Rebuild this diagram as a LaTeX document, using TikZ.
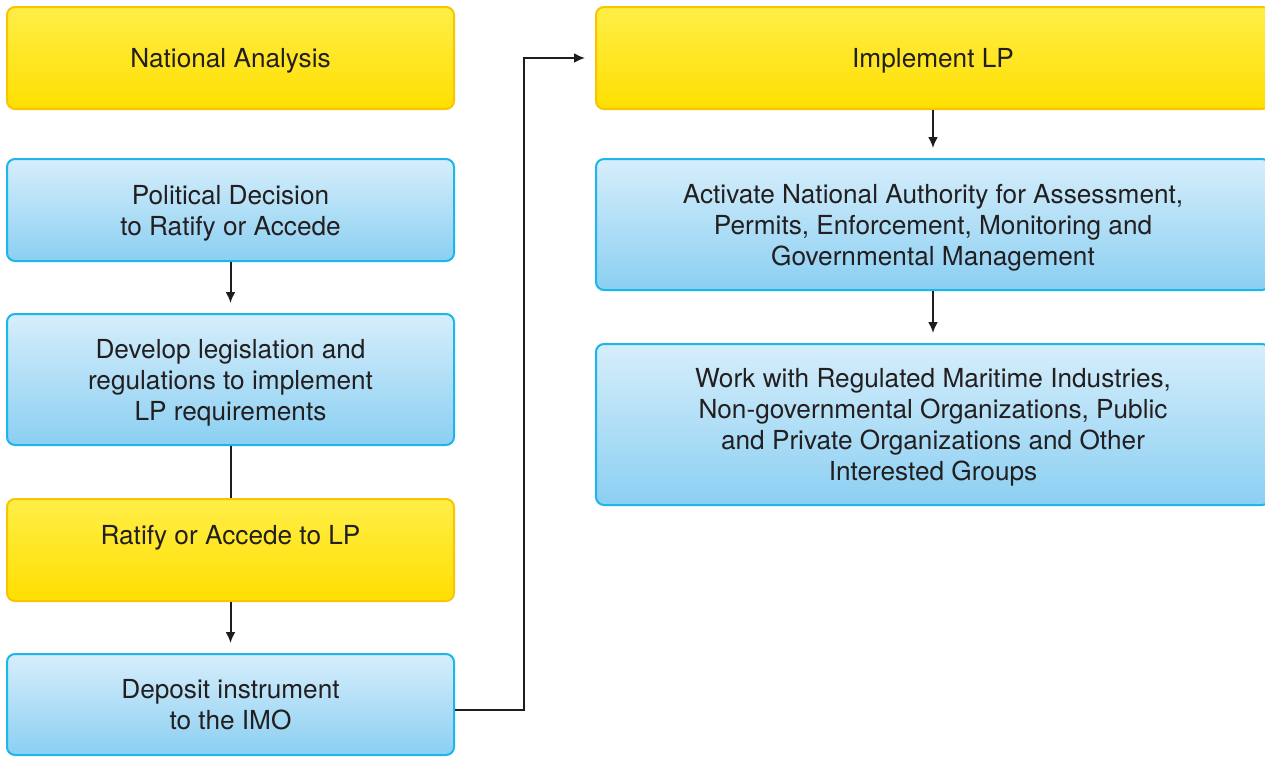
\documentclass[tikz,border=0pt]{standalone}
\usepackage{fontspec}
\setmainfont{TeX Gyre Heros}
\usetikzlibrary{arrows.meta}
\definecolor{yelTop}{HTML}{FFEE48}
\definecolor{yelBot}{HTML}{FFDF00}
\definecolor{yelLine}{HTML}{F8C500}
\definecolor{bluTop}{HTML}{D6EEFB}
\definecolor{bluBot}{HTML}{8BCFF2}
\definecolor{bluLine}{HTML}{1BB6EA}
\definecolor{ink}{HTML}{231F20}
\tikzset{
  box/.style={rounded corners=8pt, line width=2pt, inner sep=0pt, align=center,
    text=ink, text depth=0pt, font=\fontsize{26.2}{31}\selectfont},
  ybox/.style={box, draw=yelLine, top color=yelTop, bottom color=yelBot},
  bbox/.style={box, draw=bluLine, top color=bluTop, bottom color=bluBot},
  lcol/.style={minimum width=447pt},
  rcol/.style={minimum width=674pt},
  link/.style={line width=2pt, draw=ink!95!black},
  flow/.style={link, -{Latex[length=11pt, width=10pt]}, shorten >=10pt}
}
\begin{document}
\begin{tikzpicture}[x=1pt, y=-1pt]
  \clip (0,0) rectangle (1265,756);
  \path[use as bounding box] (0,0) rectangle (1265,756);
  \fill[white] (0,0) rectangle (1265,756);

  % left column
  \node[ybox, lcol, minimum height=102pt] (nat) at (230.5,58) {National Analysis};
  \node[bbox, lcol, minimum height=102pt] (pol) at (230.5,210) {Political Decision\\to Ratify or Accede};
  \node[bbox, lcol, minimum height=131pt] (dev) at (230.5,379.5) {Develop legislation and\\regulations to implement\\LP requirements};
  \node[ybox, lcol, minimum height=102pt] (rat) at (230.5,550) {Ratify or Accede to LP\\\mbox{}};
  \node[bbox, lcol, minimum height=101pt] (dep) at (230.5,704.5) {Deposit instrument\\to the IMO};

  % right column
  \node[ybox, rcol, minimum height=102pt] (imp) at (933,58) {Implement LP};
  \node[bbox, rcol, minimum height=131pt] (act) at (933,224.5) {Activate National Authority for Assessment,\\Permits, Enforcement, Monitoring and\\Governmental Management};
  \node[bbox, rcol, minimum height=161pt] (work) at (933,424.5) {Work with Regulated Maritime Industries,\\Non-governmental Organizations, Public\\and Private Organizations and Other\\Interested Groups};

  % connectors
  \draw[flow] (pol.south) -- (dev.north);
  \draw[link] (dev.south) -- (rat.north);
  \draw[flow] (rat.south) -- (dep.north);
  \coordinate (turn) at (524,58);
  \draw[flow] ([yshift=-5.5pt]dep.east) -| (turn) -- (imp.west);
  \draw[flow] (imp.south) -- (act.north);
  \draw[flow] (act.south) -- (work.north);
\end{tikzpicture}
\end{document}
